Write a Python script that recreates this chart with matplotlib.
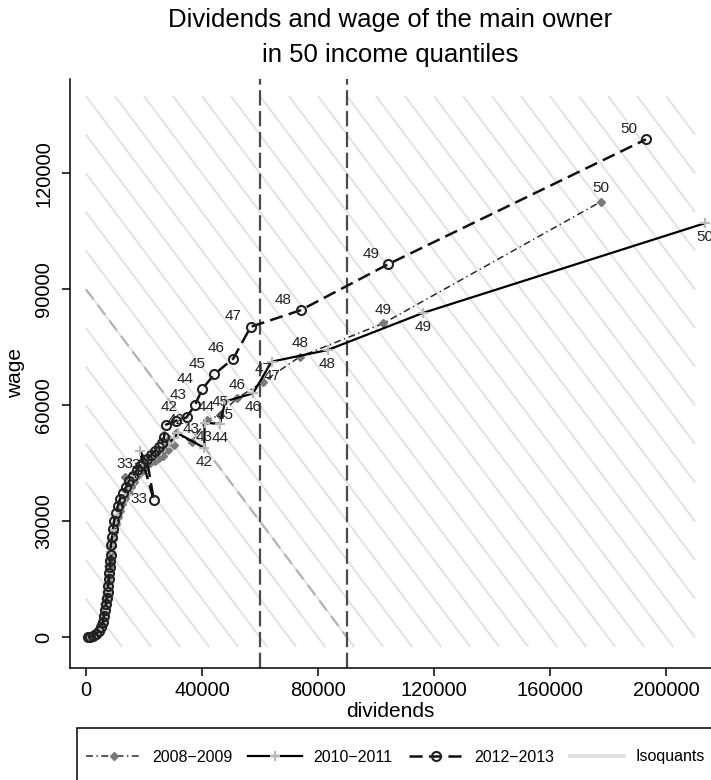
import matplotlib
matplotlib.use("Agg")
import matplotlib.pyplot as plt
from matplotlib.lines import Line2D
from matplotlib.patches import Rectangle

plt.rcParams['font.family'] = ['Liberation Sans', 'DejaVu Sans']
plt.rcParams['lines.scale_dashes'] = False

# ---------------- data (50 income quantiles) ----------------
quantiles = list(range(1, 51))

div_0809 = [800, 1500, 2500, 3500, 4600, 5300, 5900, 6300, 6600, 6900,
            7200, 7500, 7700, 7900, 8000, 8200, 8500, 8800, 9000, 9300,
            9700, 10200, 10900, 11700, 12500, 13400, 14400, 15400, 16400, 17400,
            18500, 19500, 13400, 20300, 22000, 23800, 25200, 26500, 28300, 30300,
            28500, 31000, 36400, 41600, 46200, 52000, 61100, 73800, 102500, 177600]
wage_0809 = [0, 100, 400, 1000, 1800, 2900, 4300, 5800, 7300, 8900,
             10500, 12000, 13600, 15300, 16900, 18500, 20100, 21800, 23500, 25400,
             27300, 29200, 31000, 32800, 34500, 36100, 37600, 39000, 40300, 41500,
             42500, 43400, 41400, 44300, 45000, 45600, 46300, 47000, 48400, 49800,
             51200, 52800, 50500, 56200, 57500, 61800, 66100, 72600, 81200, 112700]

div_1011 = [600, 1300, 2300, 3300, 4400, 5100, 5700, 6100, 6400, 6700,
            7000, 7300, 7600, 7800, 7900, 8100, 8300, 8600, 8900, 9300,
            9800, 10400, 11100, 11900, 12800, 13700, 14700, 15700, 16700, 17700,
            18700, 19800, 18600, 21000, 22600, 24200, 25800, 27300, 28700, 30200,
            31600, 40800, 40900, 46200, 48000, 57600, 64000, 83300, 116200, 213400]
wage_1011 = [0, 200, 500, 900, 1500, 2500, 3800, 5200, 6800, 8400,
             10000, 11600, 13200, 15000, 16700, 18400, 20200, 22000, 23900, 25800,
             27800, 29700, 31600, 33400, 35100, 36700, 38200, 39600, 40900, 42100,
             43200, 44200, 48200, 45300, 46300, 47200, 48100, 49100, 50300, 51500,
             52800, 49000, 55500, 55200, 61000, 63100, 71300, 74300, 83900, 107100]

div_1213 = [700, 1400, 2400, 3400, 4500, 5200, 5900, 6200, 6500, 6900,
            7200, 7600, 7600, 7900, 7900, 8300, 8300, 8600, 8600, 9000,
            9300, 9700, 10300, 11000, 11700, 12800, 13800, 14800, 16200, 17600,
            18600, 19700, 23400, 21000, 22400, 23800, 25200, 26200, 26900, 27600,
            31000, 34700, 37600, 40100, 44200, 50800, 56800, 74000, 104200, 193100]
wage_1213 = [0, 100, 300, 900, 1600, 2700, 4000, 5500, 7000, 8600,
             10200, 11700, 13300, 15100, 16600, 18200, 19700, 21300, 23900, 26000,
             28000, 30100, 32200, 34000, 35800, 37300, 38900, 40400, 41700, 43300,
             44300, 45100, 35500, 46100, 47200, 48200, 49200, 50200, 51800, 55000,
             56000, 56900, 60100, 64200, 68000, 72100, 80300, 84600, 96500, 128800]

labelled_q = [33, 42, 43, 44, 45, 46, 47, 48, 49, 50]
series_names = ["2008\u22122009", "2010\u22122011", "2012\u22122013", "Isoquants"]
vlines_x = [60000, 90000]
iso_highlight = 90000
iso_step = 10000
x_ticks = [0, 40000, 80000, 120000, 160000, 200000]
y_ticks = [0, 30000, 60000, 90000, 120000]

# ---------------- figure ----------------
W, H = 711, 780
fig = plt.figure(figsize=(W / 100, H / 100), dpi=100)
ax = fig.add_axes([70 / W, (H - 667.5) / H, 1 - 70 / W, (667.5 - 79) / H])
ax.set_xlim(-5500, 215500)
ax.set_ylim(-7800, 144400)

# isoquants x + y = c, inside the box [0, 210000] x [-2500, 140000]
xmax_iso, ymin_iso, ymax_iso = 210000, -2500, 140000
c = iso_step
while c <= xmax_iso + ymax_iso:
    x0 = max(0, c - ymax_iso)
    x1 = min(xmax_iso, c - ymin_iso)
    if x1 > x0:
        ax.plot([x0, x1], [c - x0, c - x1], color='#e2e2e2', lw=1.4, zorder=1,
                solid_capstyle='butt')
    c += iso_step
ax.plot([0, iso_highlight], [iso_highlight, 0], color='#b4b4b4', lw=1.6,
        dashes=(9, 5), zorder=1.5)

for xv in vlines_x:
    ax.axvline(xv, color='#4a4a4a', lw=1.6, dashes=(11, 4), zorder=2)

# series
l1, = ax.plot(div_0809, wage_0809, color='#2a2a2a', lw=1.1, dashes=(5, 2.5, 1, 2.5),
              marker='D', ms=4, mfc='#7a7a7a', mec='#7a7a7a', zorder=3)
l2, = ax.plot(div_1011, wage_1011, color='black', lw=1.6,
              marker='+', ms=7, mec='#b8b8b8', mew=1.5, zorder=3.2)
l3, = ax.plot(div_1213, wage_1213, color='#111111', lw=1.8, dashes=(9.5, 4.5),
              marker='o', ms=6.5, mfc='none', mec='#222222', mew=1.5, zorder=3.4)

# labels
for q in labelled_q:
    i = q - 1
    ax.annotate(str(q), (div_0809[i], wage_0809[i]), xytext=(0, 9.5),
                textcoords='offset points', ha='center', va='center',
                fontsize=11, color='#222222', zorder=5)
    ax.annotate(str(q), (div_1011[i], wage_1011[i]), xytext=(0, -10),
                textcoords='offset points', ha='center', va='center',
                fontsize=11, color='#222222', zorder=5)
    off = (-10.5, 1) if q == 33 else (-12.5, 7.5)
    ax.annotate(str(q), (div_1213[i], wage_1213[i]), xytext=off,
                textcoords='offset points', ha='center', va='center',
                fontsize=11, color='#222222', zorder=5)

# axes styling
for s in ['top', 'right']:
    ax.spines[s].set_visible(False)
for s in ['left', 'bottom']:
    ax.spines[s].set_linewidth(1.1)
ax.set_xticks(x_ticks)
ax.set_yticks(y_ticks)
ax.set_xticklabels([str(v) for v in x_ticks], fontsize=14.5)
ax.set_yticklabels([str(v) for v in y_ticks], fontsize=14.5, rotation=90, va='center')
ax.tick_params(axis='x', direction='out', length=6, width=1.1, pad=4)
ax.tick_params(axis='y', direction='out', length=6, width=1.1, pad=6)
ax.set_xlabel('dividends', fontsize=15, labelpad=1)
ax.set_ylabel('wage', fontsize=15, labelpad=7)

# titles
cx = (70 + W) / 2 / W
fig.text(cx, 1 - 27 / H, 'Dividends and wage of the main owner', ha='center',
         va='baseline', fontsize=18.5)
fig.text(cx, 1 - 62 / H, 'in 50 income quantiles', ha='center', va='baseline',
         fontsize=18.5)

# legend box (cut off at the figure edge as in the reference)
fig.patches.append(Rectangle((77 / W, -0.05), 1.0, 0.05 + (H - 728) / H,
                             transform=fig.transFigure, facecolor='white',
                             edgecolor='black', lw=1.1, zorder=0))
iso_handle = Line2D([], [], color='#e2e2e2', lw=3)
fig.legend([l1, l2, l3, iso_handle], series_names, loc='center left',
           bbox_to_anchor=(80 / W, 1 - 757 / H), ncol=4, frameon=False,
           fontsize=11.5, handlelength=3.4, handletextpad=0.7,
           columnspacing=1.0, borderaxespad=0)

fig.savefig('out.png', dpi=100)
